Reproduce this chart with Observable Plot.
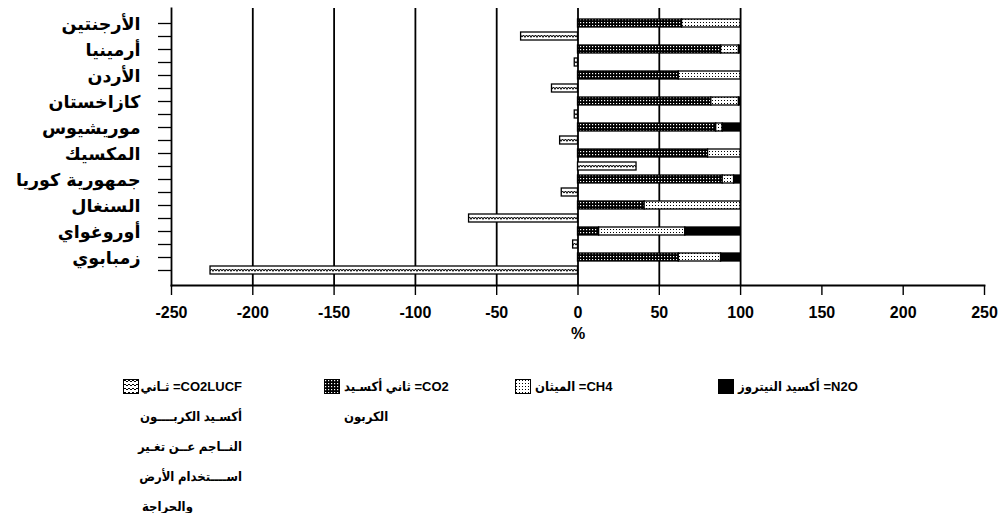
<!DOCTYPE html>
<html><head><meta charset="utf-8">
<script src="https://cdn.jsdelivr.net/npm/d3@7"></script>
<script src="https://cdn.jsdelivr.net/npm/@observablehq/plot@0.6"></script>
<style>
body{margin:0;background:#fff;}
#wrap{position:relative;width:1005px;height:513px;background:#fff;font-family:"Liberation Sans",Arial,"DejaVu Sans",sans-serif;}
#chart{position:absolute;left:0;top:0;}
.lt{position:absolute;font-size:13px;font-weight:bold;color:#000;white-space:nowrap;direction:rtl;line-height:30px;font-family:"Liberation Sans","DejaVu Sans Condensed","DejaVu Sans",sans-serif;}
.sw{position:absolute;width:16px;height:15px;}
</style></head>
<body><div id="wrap"><div id="chart"></div><div id="legend"></div></div>
<script>
const countries = ["الأرجنتين","أرمينيا","الأردن","كازاخستان","موريشيوس","المكسيك","جمهورية كوريا","السنغال","أوروغواي","زمبابوي"];
const co2 = [64, 88, 62, 82, 85, 80, 89, 41, 13, 62];
const ch4 = [36, 11, 38, 17, 4, 20, 7, 59, 53, 26];
const n2o = [0, 1, 0, 1, 11, 0, 4, 0, 34, 12];
const co2lucf = [-35, -2, -16, -2, -11, 36, -10, -67, -3, -226];
const xTicks = [-250, -200, -150, -100, -50, 0, 50, 100, 150, 200, 250];
const gridValues = [-200, -150, -100, -50, 0, 50, 100];
const gases = ["CO2", "CH4", "N2O"];
const legendItems = [
  {id: "pLUCFsw", lines: ["CO2LUCF= ثـاني", "أكسـيد الكربــــون", "النــاجم عــن تغـير", "اســــتخدام الأرض", "والحراجة"]},
  {id: "pCO2", lines: ["CO2= ثاني أكسـيد", "الكربون"]},
  {id: "pCH4", lines: ["CH4= الميثان"]},
  {id: "black", lines: ["N2O= أكسيد النيتروز"]}
];

const keys = countries.flatMap(c => [c + "|s", c + "|l"]);
const gasValues = {CO2: co2, CH4: ch4, N2O: n2o};
const fills = {CO2: "url(#pCO2)", CH4: "url(#pCH4)", N2O: "#000"};
const stackRows = countries.flatMap((c, i) => gases.map(g => ({key: c + "|s", gas: g, value: gasValues[g][i]})));
const lucfRows = countries.map((c, i) => ({key: c + "|l", value: co2lucf[i]}));

const plot = Plot.plot({
  width: 1005, height: 345,
  marginLeft: 171, marginRight: 21, marginTop: 8, marginBottom: 60,
  style: {fontFamily: "'Liberation Sans', Arial, 'DejaVu Sans', sans-serif", background: "white", color: "#000", overflow: "visible"},
  x: {domain: [-250, 250]},
  y: {domain: keys, padding: 0.42},
  color: {type: "identity"},
  marks: [
    Plot.ruleX(gridValues, {stroke: "#000", strokeWidth: 1.8}),
    Plot.barX(stackRows, Plot.stackX({y: "key", x: "value", fill: d => fills[d.gas], stroke: "#000", strokeWidth: 1.3})),
    Plot.barX(lucfRows, {y: "key", x: "value", fill: "url(#pLUCF)", stroke: "#000", strokeWidth: 1.3}),
    Plot.frame({anchor: "bottom", stroke: "#000", strokeWidth: 1.8}),
    Plot.frame({anchor: "left", stroke: "#000", strokeWidth: 1.8}),
    Plot.axisX({ticks: xTicks, tickSize: 10, tickPadding: 11, tickFormat: d => String(d), fontSize: 16, fontWeight: "bold", fontFamily: "'Liberation Sans Narrow','Liberation Sans',Arial,sans-serif", label: "%", labelAnchor: "center", labelArrow: "none", labelOffset: 53, strokeWidth: 1.4}),
    Plot.axisY({tickSize: 13, tickFormat: () => "", label: null, strokeWidth: 1.3}),
    Plot.text(countries, {y: c => c + "|s", text: d => d, frameAnchor: "left", dx: -31, dy: 1, textAnchor: "end", fontSize: 17.5, fontWeight: "bold", fontFamily: "'DejaVu Sans', sans-serif"})
  ]
});
document.getElementById("chart").appendChild(plot);

// patterns
const svg = d3.select(plot);
const ys = plot.scale("y");
const bw = ys.bandwidth, step = ys.step;
const y0 = ys.apply(keys[1]);
const defs = svg.insert("defs", ":first-child");
const pc = defs.append("pattern").attr("id", "pCO2").attr("patternUnits", "userSpaceOnUse").attr("width", 3).attr("height", 3);
pc.append("rect").attr("width", 3).attr("height", 3).attr("fill", "#000");
pc.append("rect").attr("x", 1).attr("y", 1).attr("width", 1.2).attr("height", 1.2).attr("fill", "#fff");
const ph = defs.append("pattern").attr("id", "pCH4").attr("patternUnits", "userSpaceOnUse").attr("width", 3).attr("height", 3);
ph.append("rect").attr("width", 3).attr("height", 3).attr("fill", "#fff");
ph.append("rect").attr("x", 1).attr("y", 1).attr("width", 1).attr("height", 1).attr("fill", "#000");
const pl = defs.append("pattern").attr("id", "pLUCF").attr("patternUnits", "userSpaceOnUse").attr("width", 6).attr("height", 2 * step).attr("y", y0);
pl.append("rect").attr("width", 6).attr("height", 2 * step).attr("fill", "#fff");
const m = bw / 2;
pl.append("path").attr("d", `M0,${m + 1} Q1.5,${m - 2} 3,${m + 1} Q4.5,${m - 2} 6,${m + 1}`).attr("fill", "none").attr("stroke", "#000").attr("stroke-width", 1.1);
const ps = defs.append("pattern").attr("id", "pLUCFsw").attr("patternUnits", "userSpaceOnUse").attr("width", 4).attr("height", 4);
ps.append("rect").attr("width", 4).attr("height", 4).attr("fill", "#fff");
ps.append("path").attr("d", "M0,3 L2,1 L4,3").attr("fill", "none").attr("stroke", "#000").attr("stroke-width", 1);

// legend: swatch, then right-to-left text block
const legendPos = [
  {sw: 123, textLeft: 142, width: 100, mode: "justify"},
  {sw: 324, textLeft: 344, width: null, mode: "left"},
  {sw: 515, textLeft: 535, width: null, mode: "left"},
  {sw: 718, textLeft: 738, width: null, mode: "left"}
];
const legendTop = 372;
const leg = d3.select("#legend");
legendItems.forEach((it, i) => {
  const p = legendPos[i];
  const s = leg.append("svg").attr("class", "sw").style("left", p.sw + "px").style("top", (legendTop + 7) + "px").attr("width", 16).attr("height", 15);
  s.append("rect").attr("x", 0.5).attr("y", 0.5).attr("width", 15).attr("height", 14)
    .attr("fill", it.id === "black" ? "#000" : `url(#${it.id})`).attr("stroke", "#000");
  const t = leg.append("div").attr("class", "lt").style("left", p.textLeft + "px").style("top", legendTop + "px");
  if (p.width) t.style("width", p.width + "px");
  it.lines.forEach((ln, j) => {
    const last = j === it.lines.length - 1;
    const al = p.mode === "justify" && !last ? "justify" : "left";
    t.append("div").style("text-align", al).style("text-align-last", al).text(ln);
  });
});
</script>
</body></html>
